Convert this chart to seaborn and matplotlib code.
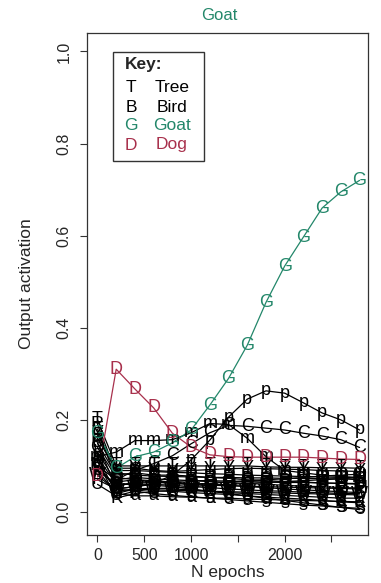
import numpy as np
import pandas as pd
import matplotlib
matplotlib.use("Agg")
import matplotlib.pyplot as plt
import seaborn as sns

epochs = [0, 200, 400, 600, 800, 1000, 1200, 1400, 1600, 1800, 2000, 2200, 2400, 2600, 2800]

goat = [0.171, 0.095, 0.12, 0.13, 0.15, 0.178, 0.232, 0.29, 0.362, 0.455, 0.534, 0.597, 0.66, 0.695, 0.72]
dog = [0.076, 0.31, 0.267, 0.226, 0.171, 0.141, 0.124, 0.12, 0.119, 0.119, 0.119, 0.119, 0.117, 0.115, 0.114]

black_series = {
    "p": [0.10, 0.05, 0.055, 0.062, 0.08, 0.113, 0.156, 0.206, 0.245, 0.263, 0.258, 0.237, 0.215, 0.200, 0.178],
    "C": [0.10, 0.07, 0.09, 0.105, 0.122, 0.148, 0.172, 0.188, 0.186, 0.182, 0.178, 0.171, 0.165, 0.157, 0.140],
    "m": [0.12, 0.13, 0.155, 0.155, 0.157, 0.172, 0.192, 0.190, 0.160, 0.120, 0.090, 0.085, 0.080, 0.077, 0.075],
    "T": [0.20, 0.10, 0.10, 0.10, 0.10, 0.10, 0.10, 0.10, 0.10, 0.098, 0.097, 0.097, 0.096, 0.096, 0.095],
    "B": [0.15, 0.08, 0.085, 0.08, 0.08, 0.078, 0.075, 0.073, 0.07, 0.068, 0.066, 0.065, 0.063, 0.062, 0.06],
    "S": [0.12, 0.06, 0.06, 0.058, 0.055, 0.05, 0.045, 0.04, 0.035, 0.03, 0.025, 0.02, 0.015, 0.01, 0.008],
    "P": [0.09, 0.04, 0.05, 0.052, 0.05, 0.048, 0.045, 0.042, 0.04, 0.038, 0.036, 0.034, 0.032, 0.03, 0.03],
    "E": [0.18, 0.07, 0.075, 0.072, 0.07, 0.068, 0.066, 0.064, 0.062, 0.06, 0.058, 0.056, 0.055, 0.053, 0.052],
    "F": [0.07, 0.05, 0.055, 0.06, 0.058, 0.055, 0.053, 0.05, 0.048, 0.046, 0.045, 0.043, 0.042, 0.04, 0.04],
    "H": [0.16, 0.09, 0.09, 0.088, 0.086, 0.085, 0.083, 0.082, 0.08, 0.079, 0.078, 0.077, 0.076, 0.075, 0.074],
    "K": [0.11, 0.03, 0.04, 0.045, 0.045, 0.042, 0.04, 0.038, 0.035, 0.032, 0.03, 0.028, 0.025, 0.022, 0.02],
    "L": [0.13, 0.065, 0.07, 0.068, 0.065, 0.062, 0.06, 0.058, 0.055, 0.053, 0.05, 0.048, 0.046, 0.044, 0.042],
    "M": [0.10, 0.055, 0.065, 0.065, 0.063, 0.06, 0.058, 0.057, 0.056, 0.055, 0.054, 0.053, 0.052, 0.051, 0.05],
    "R": [0.19, 0.085, 0.08, 0.078, 0.077, 0.076, 0.075, 0.075, 0.074, 0.074, 0.073, 0.073, 0.072, 0.072, 0.07],
    "W": [0.08, 0.045, 0.05, 0.048, 0.047, 0.046, 0.045, 0.044, 0.043, 0.042, 0.041, 0.04, 0.039, 0.038, 0.037],
    "O": [0.14, 0.075, 0.07, 0.065, 0.062, 0.06, 0.062, 0.065, 0.068, 0.07, 0.072, 0.075, 0.078, 0.08, 0.082],
    "U": [0.06, 0.035, 0.045, 0.05, 0.052, 0.055, 0.058, 0.06, 0.062, 0.064, 0.066, 0.068, 0.07, 0.072, 0.075],
    "Y": [0.17, 0.095, 0.095, 0.09, 0.088, 0.09, 0.092, 0.094, 0.095, 0.094, 0.093, 0.092, 0.09, 0.089, 0.088],
    "a": [0.12, 0.04, 0.035, 0.035, 0.033, 0.032, 0.03, 0.03, 0.028, 0.027, 0.026, 0.025, 0.024, 0.023, 0.022],
    "e": [0.09, 0.06, 0.062, 0.064, 0.066, 0.068, 0.068, 0.067, 0.066, 0.065, 0.064, 0.064, 0.063, 0.062, 0.062],
    "s": [0.15, 0.05, 0.045, 0.04, 0.036, 0.033, 0.03, 0.027, 0.024, 0.021, 0.018, 0.015, 0.013, 0.01, 0.005],
}

key_letters = ["T", "B", "G", "D"]
key_names = ["Tree", "Bird", "Goat", "Dog"]

GREEN = "#23876a"
RED = "#a8304c"
MARK_FS = 13

sns.set_theme(style="ticks")
plt.rcParams["font.family"] = ["Liberation Sans", "DejaVu Sans"]

fig = plt.figure(figsize=(3.81, 5.83), dpi=100)
ax = fig.add_axes([87 / 381, 48 / 583, 281 / 381, 502 / 583])

rows = []
for name, vals in black_series.items():
    for x, y in zip(epochs, vals):
        rows.append({"series": name, "epoch": x, "act": y})
for x, y in zip(epochs, dog):
    rows.append({"series": "D", "epoch": x, "act": y})
for x, y in zip(epochs, goat):
    rows.append({"series": "G", "epoch": x, "act": y})
df = pd.DataFrame(rows)

palette = {name: "black" for name in black_series}
palette["D"] = RED
palette["G"] = GREEN

sns.lineplot(data=df, x="epoch", y="act", hue="series", units="series", estimator=None,
             palette=palette, legend=False, lw=0.9, ax=ax, sort=False)

for name, vals in black_series.items():
    for x, y in zip(epochs, vals):
        ax.text(x, y, name, color="black", fontsize=MARK_FS, ha="center", va="center")
for x, y in zip(epochs, dog):
    ax.text(x, y, "D", color=RED, fontsize=MARK_FS, ha="center", va="center")
for x, y in zip(epochs, goat):
    ax.text(x, y, "G", color=GREEN, fontsize=MARK_FS, ha="center", va="center")

ax.set_xlim(-112, 2890)
ax.set_ylim(-0.05, 1.04)
ax.set_xticks([0, 500, 1000, 1500, 2000, 2500])
ax.set_xticklabels(["0", "500", "1000", "", "2000", ""])
ax.set_yticks([0.0, 0.2, 0.4, 0.6, 0.8, 1.0])
ax.set_yticklabels(["0.0", "0.2", "0.4", "0.6", "0.8", "1.0"], rotation=90, va="center")
ax.tick_params(axis="both", direction="out", length=5, width=0.8, labelsize=11.5,
               color="#333333", pad=4)
ax.tick_params(axis="y", pad=6)
for sp in ax.spines.values():
    sp.set_visible(True)
    sp.set_color("#333333")
    sp.set_linewidth(0.9)

ax.set_xlabel("N epochs", fontsize=12.5, labelpad=2)
ax.set_ylabel("Output activation", fontsize=12.5, labelpad=16)
fig.text(219 / 381, 1 - 16 / 583, "Goat", color=GREEN, fontsize=12, ha="center", va="center")

# Key box (axes fraction coordinates)
def fx(px):
    return (px - 87) / 281
def fy(py):
    return (535 - py) / 502

from matplotlib.patches import Rectangle
ax.add_patch(Rectangle((fx(113), fy(161)), fx(204) - fx(113), fy(52) - fy(161),
                       transform=ax.transAxes, fill=True, facecolor="white",
                       edgecolor="#333333", lw=1.0, zorder=5))
ax.text(fx(125), fy(64), "Key:", transform=ax.transAxes, fontsize=12.5, fontweight="bold",
        ha="left", va="center", zorder=6)
key_colors = ["black", "black", GREEN, RED]
key_y = [88, 107, 126, 145]
for let, nm, col, yy in zip(key_letters, key_names, key_colors, key_y):
    ax.text(fx(131), fy(yy), let, transform=ax.transAxes, fontsize=12.5, color=col,
            ha="center", va="center", zorder=6)
    ax.text(fx(172), fy(yy), nm, transform=ax.transAxes, fontsize=12.5, color=col,
            ha="center", va="center", zorder=6)

fig.savefig("out.png", dpi=100)
